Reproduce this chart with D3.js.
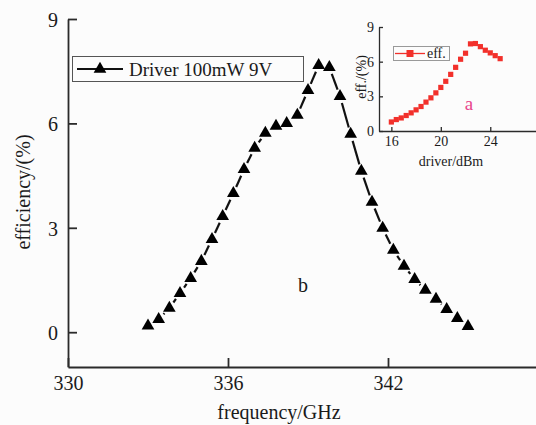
<!doctype html>
<html>
<head>
<meta charset="utf-8">
<title>efficiency</title>
<script src="https://cdn.jsdelivr.net/npm/d3@7"></script>
<style>
  body { margin: 0; background: #fcfcfc; }
  text { font-family: "Liberation Serif", "Times New Roman", serif; fill: #1a1a1a; }
</style>
</head>
<body>
<svg width="536" height="425"></svg>
<script>
// main curve: frequency (GHz) vs efficiency (%)
var freq = [333.0, 333.4, 333.8, 334.2, 334.6, 335.0, 335.4, 335.8, 336.2, 336.6,
            337.0, 337.4, 337.8, 338.2, 338.6, 339.0, 339.4, 339.8, 340.2, 340.6,
            341.0, 341.4, 341.8, 342.2, 342.6, 343.0, 343.4, 343.8, 344.2, 344.6, 345.0];
var eff = [0.18, 0.37, 0.69, 1.12, 1.55, 2.04, 2.67, 3.33, 3.99, 4.68,
           5.29, 5.72, 5.92, 6.00, 6.24, 6.95, 7.67, 7.61, 6.78, 5.69,
           4.63, 3.74, 2.99, 2.36, 1.90, 1.52, 1.21, 0.95, 0.66, 0.40, 0.17];
var xTicks = [330, 336, 342];
var yTicks = [0, 3, 6, 9];

// inset: driver power (dBm) vs efficiency (%)
var driver = [16.0, 16.4, 16.8, 17.2, 17.6, 18.0, 18.4, 18.8, 19.2, 19.6, 20.0, 20.4,
              20.8, 21.2, 21.6, 22.0, 22.4, 22.8, 23.2, 23.6, 24.0, 24.4, 24.8];
var driverEff = [0.78, 0.99, 1.13, 1.34, 1.57, 1.83, 2.12, 2.50, 2.87, 3.30, 3.77, 4.30,
                 4.90, 5.51, 6.21, 6.73, 7.54, 7.57, 7.30, 6.99, 6.76, 6.52, 6.26];
var insetXTicks = [16, 20, 24];
var insetYTicks = [0, 3, 6, 9];

var svg = d3.select("svg");
svg.append("rect").attr("width", 536).attr("height", 425).attr("fill", "#fcfcfc");

var axisColor = "#2b2b2b";

var x = d3.scaleLinear().domain([330, 348]).range([68, 548]);
var y = d3.scaleLinear().domain([-1, 9]).range([367, 19]);

function styleAxis(g, w) {
    g.select(".domain").attr("stroke", axisColor).attr("stroke-width", w);
    g.selectAll(".tick line").attr("stroke", axisColor).attr("stroke-width", w);
    g.selectAll(".tick text").attr("fill", "#1a1a1a");
}

var xAxis = svg.append("g")
    .attr("transform", "translate(0," + y(-1) + ")")
    .call(d3.axisBottom(x).tickValues(xTicks).tickSizeInner(-9).tickSizeOuter(0).tickPadding(9))
    .attr("font-family", null).attr("font-size", 20);
styleAxis(xAxis, 1.8);

var yAxis = svg.append("g")
    .attr("transform", "translate(" + x(330) + ",0)")
    .call(d3.axisLeft(y).tickValues(yTicks).tickSizeInner(-9).tickSizeOuter(0).tickPadding(10))
    .attr("font-family", null).attr("font-size", 20);
styleAxis(yAxis, 1.8);
yAxis.selectAll(".tick text").attr("dy", "0.36em");

svg.append("text")
    .attr("transform", "translate(23," + 192 + ") rotate(-90)")
    .attr("text-anchor", "middle").attr("dy", "0.35em")
    .attr("font-size", 20)
    .text("efficiency/(%)");

svg.append("text")
    .attr("x", 279).attr("y", 419)
    .attr("text-anchor", "middle")
    .attr("font-size", 20)
    .text("frequency/GHz");

// line segments with a gap round each symbol
var pts = freq.map(function(f, i) { return [x(f), y(eff[i])]; });
var gap = 7;
var segs = d3.pairs(pts).map(function(p) {
    var dx = p[1][0] - p[0][0], dy = p[1][1] - p[0][1];
    var len = Math.sqrt(dx * dx + dy * dy);
    var ux = dx / len, uy = dy / len;
    return [[p[0][0] + ux * gap, p[0][1] + uy * gap], [p[1][0] - ux * gap, p[1][1] - uy * gap]];
}).filter(function(s) { return (s[1][0] - s[0][0]) > 0; });

svg.append("g").selectAll("line").data(segs).join("line")
    .attr("x1", function(d) { return d[0][0]; })
    .attr("y1", function(d) { return d[0][1]; })
    .attr("x2", function(d) { return d[1][0]; })
    .attr("y2", function(d) { return d[1][1]; })
    .attr("stroke", "#111").attr("stroke-width", 2.2);

var tri = d3.symbol().type(d3.symbolTriangle).size(70);
svg.append("g").selectAll("path").data(freq).join("path")
    .attr("transform", function(d, i) { return "translate(" + x(d) + "," + y(eff[i]) + ")"; })
    .attr("d", tri)
    .attr("fill", "#000");

// legend of main chart
var lg = svg.append("g");
lg.append("rect").attr("x", 72.5).attr("y", 56.5).attr("width", 231).attr("height", 25)
    .attr("fill", "#fcfcfc").attr("stroke", "#555").attr("stroke-width", 1);
lg.append("line").attr("x1", 77).attr("x2", 123).attr("y1", 69).attr("y2", 69)
    .attr("stroke", "#111").attr("stroke-width", 2.2);
lg.append("path").attr("transform", "translate(100,69)").attr("d", tri).attr("fill", "#000");
lg.append("text").attr("x", 129).attr("y", 76).attr("font-size", 19).text("Driver 100mW 9V");

svg.append("text").attr("x", 303).attr("y", 292).attr("text-anchor", "middle")
    .attr("font-size", 20).text("b");

// inset chart
var xi = d3.scaleLinear().domain([15, 27.7]).range([379, 536]);
var yi = d3.scaleLinear().domain([0, 9]).range([131, 27]);

var xiAxis = svg.append("g")
    .attr("transform", "translate(0," + yi(0) + ")")
    .call(d3.axisBottom(xi).tickValues(insetXTicks).tickSizeInner(-4).tickSizeOuter(0).tickPadding(5))
    .attr("font-family", null).attr("font-size", 14);
styleAxis(xiAxis, 1.3);

var yiAxis = svg.append("g")
    .attr("transform", "translate(" + xi(15) + ",0)")
    .call(d3.axisLeft(yi).tickValues(insetYTicks).tickSizeInner(-4).tickSizeOuter(0).tickPadding(5))
    .attr("font-family", null).attr("font-size", 14);
styleAxis(yiAxis, 1.3);

svg.append("text")
    .attr("x", 451).attr("y", 166).attr("text-anchor", "middle")
    .attr("font-size", 14).text("driver/dBm");

svg.append("text")
    .attr("transform", "translate(361,77) rotate(-90)")
    .attr("text-anchor", "middle").attr("dy", "0.35em")
    .attr("font-size", 14).text("eff./(%)");

var red = "#f2302b";
svg.append("g").selectAll("rect").data(driver).join("rect")
    .attr("x", function(d) { return xi(d) - 2.6; })
    .attr("y", function(d, i) { return yi(driverEff[i]) - 2.6; })
    .attr("width", 5.2).attr("height", 5.2)
    .attr("fill", red);

var il = svg.append("g");
il.append("rect").attr("x", 393.5).attr("y", 46.5).attr("width", 56).attr("height", 14)
    .attr("fill", "#fcfcfc").attr("stroke", "#999").attr("stroke-width", 1);
il.append("line").attr("x1", 395).attr("x2", 425).attr("y1", 53.5).attr("y2", 53.5)
    .attr("stroke", red).attr("stroke-width", 1.3);
il.append("rect").attr("x", 406.5).attr("y", 50).attr("width", 7).attr("height", 7).attr("fill", red);
il.append("text").attr("x", 427).attr("y", 58).attr("font-size", 14).text("eff.");

svg.append("text").attr("x", 469).attr("y", 110).attr("text-anchor", "middle")
    .attr("font-size", 19).style("fill", "#e8458c").text("a");
</script>
</body>
</html>
